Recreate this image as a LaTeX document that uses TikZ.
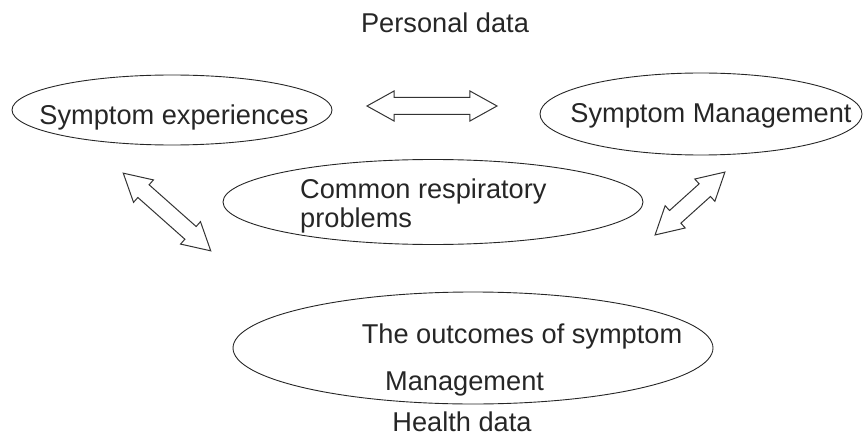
\documentclass[tikz,border=0pt]{standalone}
\usepackage{fontspec}
\setmainfont{Liberation Sans}
\usetikzlibrary{shapes.geometric,shapes.arrows}
\begin{document}
\begin{tikzpicture}[x=1pt,y=1pt,
  oval/.style={draw=black!85,line width=0.9pt,ellipse,inner sep=0pt},
  txt/.style={font=\fontsize{27.2}{31}\selectfont,text=black!85,inner sep=0pt},
  blockarrow/.style={double arrow,draw=black!80,line width=1pt,fill=white,
    inner xsep=0pt,inner ysep=8pt,double arrow head extend=6.5pt,
    double arrow tip angle=58}]
\useasboundingbox (0,0) rectangle (866,437);
% ellipses
\node[oval,minimum width=320pt,minimum height=70pt] (exp) at (172,327) {};
\node[oval,minimum width=322pt,minimum height=82pt] (man) at (701,323) {};
\node[oval,minimum width=420pt,minimum height=85pt] (com) at (433,235) {};
\node[oval,minimum width=480pt,minimum height=112pt] (out) at (473,89) {};
% texts
\node[txt,anchor=base] (tpers) at (445,404) {Personal data};
\node[txt,anchor=base] (texp) at (174,312) {Symptom experiences};
\node[txt,anchor=base] (tman) at (711,314) {Symptom Management};
\node[txt,anchor=base west] (tcom1) at (300,239) {Common respiratory};
\node[txt,anchor=base west] (tcom2) at (300,210) {problems};
\node[txt,anchor=base] (tout1) at (522,94) {The outcomes of symptom};
\node[txt,anchor=base west] (tout2) at (385,47) {Management};
\node[txt,anchor=base] (thealth) at (462,6) {Health data};
% block arrows
\node[blockarrow,minimum height=130pt] (hbar) at (432,331) {};
\node[blockarrow,minimum height=117pt,rotate=-41.6] (lbar) at (167,225) {};
\node[blockarrow,minimum height=94pt,rotate=42] (rbar) at (690,233.5) {};
\end{tikzpicture}
\end{document}
